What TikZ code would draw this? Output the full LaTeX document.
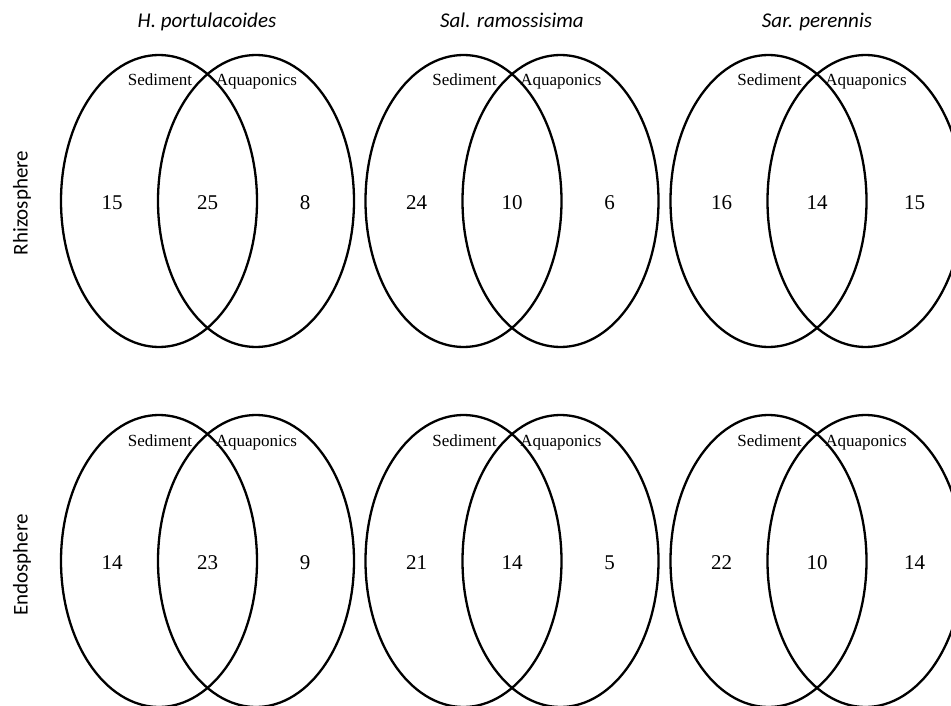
\documentclass[tikz,border=0pt]{standalone}
\usepackage{fontspec}
\setmainfont{Liberation Serif}
\newfontfamily\calibrifont{Carlito}
\usetikzlibrary{shapes.geometric}
\tikzset{
  setellipse/.style={ellipse, draw, line width=2.3pt, minimum width=196pt, minimum height=292pt, inner sep=0pt},
  setlabel/.style={font=\fontsize{17}{17}\selectfont, inner sep=0pt, anchor=base},
  count/.style={font=\fontsize{21}{21}\selectfont, inner sep=0pt, anchor=base},
  plant/.style={font=\calibrifont\itshape\fontsize{21}{21}\selectfont, inner sep=0pt, anchor=base},
  rowlabel/.style={font=\calibrifont\fontsize{21}{21}\selectfont, rotate=90, inner sep=0pt}
}
\newcommand\drawvenn[6]{%
  \node[setellipse] (#1L) at (#2,#3) {};
  \node[setellipse] (#1R) at (#2+97,#3) {};
  \node[setlabel] (#1s) at (#2+1,#3-115) {Sediment};
  \node[setlabel] (#1a) at (#2+97.5,#3-115) {Aquaponics};
  \node[count] (#1n1) at (#2-47,#3+8) {#4};
  \node[count] (#1n2) at (#2+48.5,#3+8) {#5};
  \node[count] (#1n3) at (#2+146,#3+8) {#6};
}
\begin{document}
\begin{tikzpicture}[x=1pt,y=-1pt]
\useasboundingbox (0,0) rectangle (951,706);
\node[plant] (t1) at (207,28) {H. portulacoides};
\node[plant] (t2) at (512,28) {Sal. ramossisima};
\node[plant] (t3) at (817,28) {Sar. perennis};
\node[rowlabel] (r1) at (22,203) {Rhizosphere};
\node[rowlabel] (r2) at (22,565) {Endosphere};
\drawvenn{a}{159}{201}{15}{25}{8}
\drawvenn{b}{463.5}{201}{24}{10}{6}
\drawvenn{c}{768.5}{201}{16}{14}{15}
\drawvenn{d}{159}{561}{14}{23}{9}
\drawvenn{e}{463.5}{561}{21}{14}{5}
\drawvenn{f}{768.5}{561}{22}{10}{14}
\end{tikzpicture}
\end{document}
